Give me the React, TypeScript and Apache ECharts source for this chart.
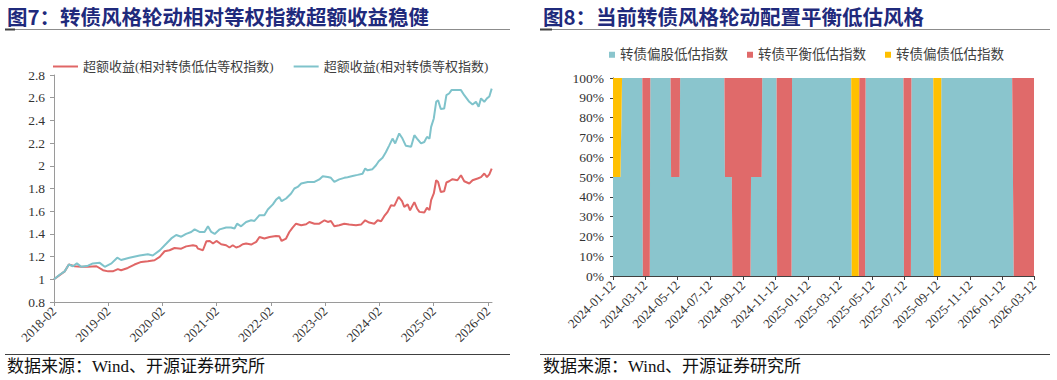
import React, { useEffect, useRef } from "react";
import * as echarts from "echarts";

// ---------- Figure 7: excess return lines ----------
const lowValDates = [
  "2018-02-01", "2018-04-14", "2018-05-12", "2018-06-20", "2018-08-04", "2018-09-18", "2018-11-14", "2018-12-28",
  "2019-02-01", "2019-03-04", "2019-04-07", "2019-04-29", "2019-06-13", "2019-07-28", "2019-09-12", "2019-10-26",
  "2019-12-10", "2020-01-14", "2020-02-16", "2020-03-20", "2020-04-23", "2020-06-07", "2020-07-10", "2020-08-25",
  "2020-09-17", "2020-09-28", "2020-10-31", "2020-11-23", "2020-12-16", "2021-01-07", "2021-01-30", "2021-03-03",
  "2021-04-05", "2021-04-28", "2021-05-20", "2021-06-12", "2021-07-04", "2021-07-26", "2021-08-18", "2021-09-21",
  "2021-10-25", "2021-11-16", "2021-12-19", "2022-01-23", "2022-03-07", "2022-03-29", "2022-04-14", "2022-05-14",
  "2022-06-05", "2022-06-27", "2022-07-20", "2022-08-24", "2022-09-26", "2022-10-18", "2022-11-21", "2022-12-24",
  "2023-01-28", "2023-02-19", "2023-03-12", "2023-04-04", "2023-05-07", "2023-06-10", "2023-07-13", "2023-08-28",
  "2023-10-01", "2023-10-29", "2023-11-25", "2023-12-29", "2024-01-21", "2024-02-13", "2024-03-05", "2024-03-28",
  "2024-04-20", "2024-05-12", "2024-06-10", "2024-07-03", "2024-07-18", "2024-08-10", "2024-08-26", "2024-09-24",
  "2024-10-12", "2024-10-28", "2024-11-30", "2024-12-18", "2025-01-04", "2025-01-15", "2025-02-02", "2025-02-18",
  "2025-03-03", "2025-03-21", "2025-04-13", "2025-04-28", "2025-05-16", "2025-06-08", "2025-07-11", "2025-08-04",
  "2025-08-26", "2025-09-29", "2025-10-21", "2025-11-24", "2025-12-17", "2026-01-08", "2026-01-26", "2026-02-11",
  "2026-02-27",
];
const lowValExcess = [
  1.0, 1.07, 1.13, 1.115, 1.11, 1.11, 1.115, 1.08,
  1.07, 1.07, 1.09, 1.08, 1.1, 1.13, 1.153, 1.16,
  1.168, 1.197, 1.247, 1.256, 1.276, 1.27, 1.29, 1.3,
  1.294, 1.27, 1.256, 1.335, 1.338, 1.315, 1.338, 1.309,
  1.3, 1.28, 1.3, 1.28, 1.29, 1.309, 1.315, 1.306,
  1.33, 1.373, 1.359, 1.373, 1.382, 1.38, 1.338, 1.359,
  1.417, 1.456, 1.49, 1.476, 1.485, 1.505, 1.49, 1.49,
  1.52, 1.505, 1.514, 1.467, 1.476, 1.49, 1.482, 1.476,
  1.482, 1.52, 1.5, 1.49, 1.52, 1.512, 1.556, 1.594,
  1.653, 1.647, 1.726, 1.688, 1.638, 1.66, 1.608, 1.68,
  1.624, 1.594, 1.588, 1.63, 1.61, 1.697, 1.756, 1.873,
  1.858, 1.77, 1.776, 1.853, 1.864, 1.882, 1.873, 1.917,
  1.864, 1.844, 1.873, 1.888, 1.9, 1.932, 1.9, 1.924,
  1.976,
];
const eqWtDates = [
  "2018-02-01", "2018-03-11", "2018-04-14", "2018-05-12", "2018-06-09", "2018-07-05", "2018-08-04", "2018-09-18",
  "2018-10-21", "2018-12-06", "2019-01-09", "2019-02-23", "2019-04-03", "2019-04-29", "2019-06-24", "2019-09-01",
  "2019-10-26", "2019-11-28", "2020-01-14", "2020-02-28", "2020-04-01", "2020-05-04", "2020-06-07", "2020-07-10",
  "2020-08-13", "2020-09-05", "2020-10-08", "2020-11-11", "2020-12-04", "2020-12-26", "2021-01-18", "2021-02-21",
  "2021-04-05", "2021-05-08", "2021-06-01", "2021-06-18", "2021-07-15", "2021-08-18", "2021-09-21", "2021-10-13",
  "2021-11-16", "2021-12-19", "2022-01-11", "2022-02-14", "2022-03-07", "2022-03-29", "2022-04-14", "2022-05-14",
  "2022-06-17", "2022-07-09", "2022-07-31", "2022-08-24", "2022-10-07", "2022-11-21", "2022-12-24", "2023-01-16",
  "2023-02-19", "2023-03-12", "2023-04-04", "2023-05-07", "2023-06-10", "2023-07-02", "2023-08-05", "2023-09-08",
  "2023-10-11", "2023-10-29", "2023-11-14", "2023-12-17", "2024-01-10", "2024-01-28", "2024-02-23", "2024-03-16",
  "2024-04-08", "2024-04-30", "2024-05-18", "2024-06-14", "2024-07-06", "2024-07-29", "2024-09-02", "2024-09-24",
  "2024-10-12", "2024-11-08", "2024-11-30", "2024-12-18", "2025-01-04", "2025-01-15", "2025-02-02", "2025-02-18",
  "2025-03-03", "2025-03-21", "2025-04-13", "2025-04-28", "2025-05-16", "2025-06-01", "2025-07-01", "2025-08-04",
  "2025-08-26", "2025-09-29", "2025-10-21", "2025-11-13", "2025-12-01", "2025-12-17", "2026-01-08", "2026-01-26",
  "2026-02-11", "2026-02-27",
];
const eqWtExcess = [
  1.0, 1.04, 1.07, 1.13, 1.115, 1.14, 1.11, 1.12,
  1.14, 1.145, 1.11, 1.14, 1.19, 1.17, 1.19, 1.21,
  1.22, 1.21, 1.255, 1.315, 1.36, 1.39, 1.375, 1.4,
  1.417, 1.44, 1.417, 1.417, 1.467, 1.417, 1.4, 1.44,
  1.456, 1.456, 1.447, 1.49, 1.467, 1.505, 1.52, 1.514,
  1.565, 1.565, 1.615, 1.66, 1.7, 1.726, 1.688, 1.712,
  1.756, 1.8, 1.814, 1.844, 1.858, 1.858, 1.88, 1.908,
  1.902, 1.894, 1.858, 1.88, 1.894, 1.9, 1.91, 1.92,
  1.93, 1.976, 1.96, 1.97, 2.005, 2.04, 2.07, 2.12,
  2.18, 2.24, 2.197, 2.285, 2.24, 2.176, 2.167, 2.27,
  2.24, 2.197, 2.21, 2.255, 2.24, 2.343, 2.417, 2.564,
  2.578, 2.5, 2.505, 2.622, 2.637, 2.667, 2.667, 2.667,
  2.622, 2.564, 2.54, 2.564, 2.52, 2.594, 2.564, 2.594,
  2.61, 2.68,
];
const leftTickLabels = ["2018-02", "2019-02", "2020-02", "2021-02", "2022-02", "2023-02", "2024-02", "2025-02", "2026-02"];

// ---------- Figure 8: style allocation (%) ----------
const styleDates = [
  "2024-01-12", "2024-01-26", "2024-01-29", "2024-03-07", "2024-03-08", "2024-03-21", "2024-03-22", "2024-04-29",
  "2024-04-30", "2024-05-16", "2024-05-17", "2024-08-08", "2024-08-09", "2024-08-22", "2024-08-23", "2024-09-26",
  "2024-09-27", "2024-10-17", "2024-10-18", "2024-11-14", "2024-11-15", "2024-12-12", "2024-12-13", "2025-04-03",
  "2025-04-04", "2025-04-17", "2025-04-18", "2025-04-29", "2025-04-30", "2025-07-10", "2025-07-11", "2025-07-24",
  "2025-07-25", "2025-09-04", "2025-09-05", "2025-09-18", "2025-09-19", "2026-01-30", "2026-02-02", "2026-03-12",
];
const equityLowVal = [
  50, 50, 100, 100, 0, 0, 100, 100,
  50, 50, 100, 100, 50, 50, 0, 0,
  50, 50, 100, 100, 0, 0, 100, 100,
  0, 0, 0, 0, 100, 100, 0, 0,
  100, 100, 0, 0, 100, 100, 0, 0,
];
const balancedLowVal = [
  0, 0, 0, 0, 100, 100, 0, 0,
  50, 50, 0, 0, 50, 50, 100, 100,
  50, 50, 0, 0, 100, 100, 0, 0,
  0, 0, 100, 100, 0, 0, 100, 100,
  0, 0, 0, 0, 0, 0, 100, 100,
];
const debtLowVal = [
  50, 50, 0, 0, 0, 0, 0, 0,
  0, 0, 0, 0, 0, 0, 0, 0,
  0, 0, 0, 0, 0, 0, 0, 0,
  100, 100, 0, 0, 0, 0, 0, 0,
  0, 0, 100, 100, 0, 0, 0, 0,
];
const rightTickLabels = [
  "2024-01-12", "2024-03-12", "2024-05-12", "2024-07-12", "2024-09-12", "2024-11-12", "2025-01-12",
  "2025-03-12", "2025-05-12", "2025-07-12", "2025-09-12", "2025-11-12", "2026-01-12", "2026-03-12",
];

const SERIF = '"Liberation Serif", "Times New Roman", "Noto Sans CJK SC", serif';
const CJK = '"Noto Sans CJK SC", "Liberation Serif", sans-serif';

function toTime(s: string): number {
  const [y, m, d] = s.split("-").map(Number);
  return new Date(y, m - 1, d || 1).getTime();
}
const pad = (n: number) => String(n).padStart(2, "0");

export default function App() {
  const ref = useRef<HTMLDivElement>(null);
  useEffect(() => {
    const chart = echarts.init(ref.current!, null, { renderer: "svg", width: 1057, height: 380 });
    const leftTicks = leftTickLabels.map((l) => toTime(l + "-01"));
    const rightTicks = rightTickLabels.map((l) => toTime(l));
    const leftMin = toTime("2018-02-01");
    const leftMax = toTime("2026-03-01");
    const rightMin = toTime("2024-01-12");
    const rightMax = toTime("2026-03-12");
    const red = "#E06666";
    const teal = "#7FC3CB";
    const areaTeal = "#8AC5CD";
    const areaRed = "#E06A6A";
    const yellow = "#FFC000";
    const lightAxis = "#9A9A9A";
    const darkAxis = "#404040";
    const labelColor = "#333333";

    const dataAxis = (grid: number, min: number, max: number, color: string) => ({
      type: "time",
      gridIndex: grid,
      position: "bottom",
      min,
      max,
      axisLine: { show: true, onZero: false, lineStyle: { color, width: 1 } },
      axisTick: { show: false },
      axisLabel: { show: false },
      splitLine: { show: false },
    });
    const labelAxis = (
      grid: number,
      min: number,
      max: number,
      ticks: number[],
      color: string,
      fmt: (v: number) => string
    ) => ({
      type: "value",
      gridIndex: grid,
      position: "bottom",
      min,
      max,
      axisLine: { show: false, onZero: false },
      axisTick: { show: true, customValues: ticks, length: 4, lineStyle: { color } },
      axisLabel: {
        customValues: ticks,
        rotate: 45,
        fontSize: 13,
        color: labelColor,
        fontFamily: SERIF,
        margin: 7,
        formatter: fmt,
      },
      splitLine: { show: false },
    });

    chart.setOption({
      animation: false,
      backgroundColor: "#ffffff",
      textStyle: { fontFamily: SERIF },
      legend: [
        {
          left: 48,
          top: 55,
          icon: "rect",
          itemWidth: 25,
          itemHeight: 2,
          itemGap: 20,
          textStyle: { fontSize: 13, color: "#404040", fontFamily: SERIF },
          data: ["超额收益(相对转债低估等权指数)", "超额收益(相对转债等权指数)"],
        },
        {
          left: 604,
          top: 43,
          icon: "rect",
          itemWidth: 6,
          itemHeight: 6,
          itemGap: 19,
          textStyle: { fontSize: 13.5, color: "#404040", fontFamily: SERIF },
          data: ["转债偏股低估指数", "转债平衡低估指数", "转债偏债低估指数"],
        },
      ],
      grid: [
        { left: 54, top: 75, width: 438, height: 227 },
        { left: 613, top: 78, width: 421, height: 198 },
      ],
      xAxis: [
        dataAxis(0, leftMin, leftMax, lightAxis),
        dataAxis(1, rightMin, rightMax, darkAxis),
        labelAxis(0, leftMin, leftMax, leftTicks, lightAxis, (v: number) => {
          const d = new Date(v);
          return `${d.getFullYear()}-${pad(d.getMonth() + 1)}`;
        }),
        labelAxis(1, rightMin, rightMax, rightTicks, darkAxis, (v: number) => {
          const d = new Date(v);
          return `${d.getFullYear()}-${pad(d.getMonth() + 1)}-${pad(d.getDate())}`;
        }),
      ],
      yAxis: [
        {
          type: "value",
          gridIndex: 0,
          min: 0.8,
          max: 2.8,
          interval: 0.2,
          axisLine: { show: true, lineStyle: { color: lightAxis } },
          axisTick: { show: true, length: 4, lineStyle: { color: lightAxis } },
          axisLabel: {
            fontSize: 13.5,
            color: labelColor,
            fontFamily: SERIF,
            margin: 9,
            formatter: (v: number) => String(Math.round(v * 10) / 10),
          },
          splitLine: { show: false },
        },
        {
          type: "value",
          gridIndex: 1,
          min: 0,
          max: 100,
          interval: 10,
          axisLine: { show: true, lineStyle: { color: darkAxis } },
          axisTick: { show: true, length: 3, lineStyle: { color: darkAxis } },
          axisLabel: { fontSize: 13.5, color: labelColor, fontFamily: SERIF, margin: 9, formatter: "{value}%" },
          splitLine: { show: false },
        },
      ],
      series: [
        {
          name: "超额收益(相对转债低估等权指数)",
          type: "line",
          xAxisIndex: 0,
          yAxisIndex: 0,
          symbol: "none",
          color: red,
          lineStyle: { width: 2, color: red },
          data: lowValDates.map((d, i) => [toTime(d), lowValExcess[i]]),
        },
        {
          name: "超额收益(相对转债等权指数)",
          type: "line",
          xAxisIndex: 0,
          yAxisIndex: 0,
          symbol: "none",
          color: teal,
          lineStyle: { width: 2, color: teal },
          data: eqWtDates.map((d, i) => [toTime(d), eqWtExcess[i]]),
        },
        {
          name: "转债偏股低估指数",
          type: "line",
          xAxisIndex: 1,
          yAxisIndex: 1,
          stack: "style",
          symbol: "none",
          color: areaTeal,
          lineStyle: { width: 0, opacity: 0 },
          areaStyle: { color: areaTeal, opacity: 1 },
          data: styleDates.map((d, i) => [toTime(d), equityLowVal[i]]),
        },
        {
          name: "转债平衡低估指数",
          type: "line",
          xAxisIndex: 1,
          yAxisIndex: 1,
          stack: "style",
          symbol: "none",
          color: areaRed,
          lineStyle: { width: 0, opacity: 0 },
          areaStyle: { color: areaRed, opacity: 1 },
          data: styleDates.map((d, i) => [toTime(d), balancedLowVal[i]]),
        },
        {
          name: "转债偏债低估指数",
          type: "line",
          xAxisIndex: 1,
          yAxisIndex: 1,
          stack: "style",
          symbol: "none",
          color: yellow,
          lineStyle: { width: 0, opacity: 0 },
          areaStyle: { color: yellow, opacity: 1 },
          data: styleDates.map((d, i) => [toTime(d), debtLowVal[i]]),
        },
      ],
      graphic: [
        {
          type: "text",
          left: 7,
          top: 6,
          style: { text: "图7：转债风格轮动相对等权指数超额收益稳健", fontSize: 20.5, fontWeight: "bold", fill: "#1F2A7C", fontFamily: CJK },
        },
        {
          type: "text",
          left: 543,
          top: 6,
          style: { text: "图8：当前转债风格轮动配置平衡低估风格", fontSize: 20.5, fontWeight: "bold", fill: "#1F2A7C", fontFamily: CJK },
        },
        { type: "line", shape: { x1: 5, y1: 29.5, x2: 510, y2: 29.5 }, style: { stroke: "#8C8C8C", lineWidth: 1 } },
        { type: "rect", shape: { x: 5, y: 28.5, width: 10, height: 2 }, style: { fill: "#404040" } },
        { type: "line", shape: { x1: 540, y1: 29.5, x2: 1050, y2: 29.5 }, style: { stroke: "#8C8C8C", lineWidth: 1 } },
        { type: "rect", shape: { x: 540, y: 28.5, width: 12, height: 2 }, style: { fill: "#404040" } },
        { type: "line", shape: { x1: 5, y1: 354.5, x2: 510, y2: 354.5 }, style: { stroke: "#404040", lineWidth: 1 } },
        { type: "line", shape: { x1: 540, y1: 354.5, x2: 1050, y2: 354.5 }, style: { stroke: "#404040", lineWidth: 1 } },
        {
          type: "text",
          left: 7,
          top: 358,
          style: { text: "数据来源：Wind、开源证券研究所", fontSize: 17, fill: "#111111", fontFamily: SERIF },
        },
        {
          type: "text",
          left: 543,
          top: 358,
          style: { text: "数据来源：Wind、开源证券研究所", fontSize: 17, fill: "#111111", fontFamily: SERIF },
        },
      ],
    });
    return () => chart.dispose();
  }, []);
  return (
    <div
      ref={ref}
      style={{ position: "fixed", left: 0, top: 0, width: 1057, height: 380, background: "#ffffff" }}
    />
  );
}
